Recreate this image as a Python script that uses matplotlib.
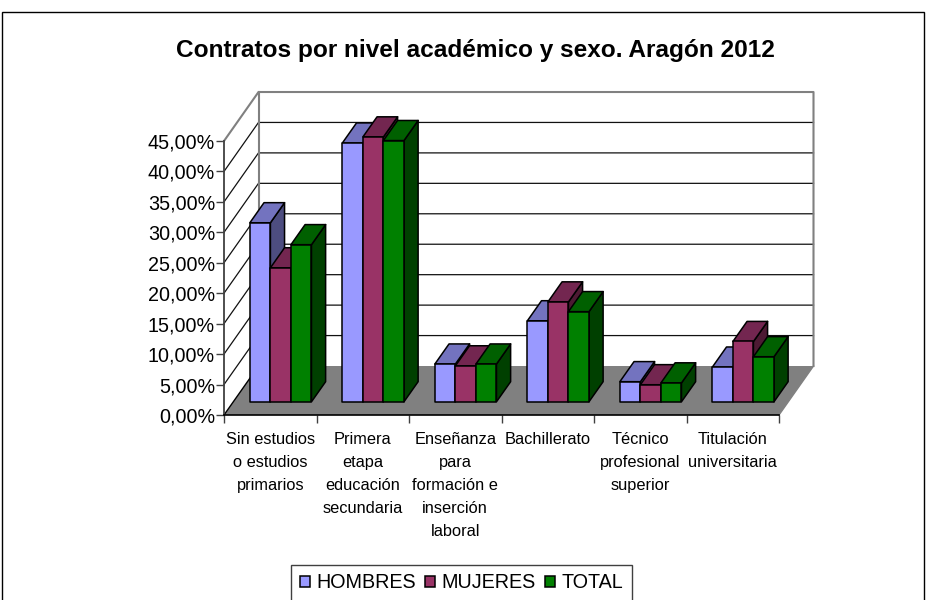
import matplotlib
matplotlib.use("Agg")
import matplotlib.pyplot as plt
from matplotlib.patches import Polygon, Patch, Rectangle

plt.rcParams['font.family'] = ['Liberation Sans', 'DejaVu Sans']

# --- DATA ---
categorias = [
    "Sin estudios\no estudios\nprimarios",
    "Primera\netapa\neducación\nsecundaria",
    "Enseñanza\npara\nformación e\ninserción\nlaboral",
    "Bachillerato",
    "Técnico\nprofesional\nsuperior",
    "Titulación\nuniversitaria",
]
hombres = [29.4, 42.5, 6.2, 13.3, 3.3, 5.7]
mujeres = [22.0, 43.5, 5.9, 16.4, 2.8, 9.9]
total = [25.8, 42.9, 6.2, 14.8, 3.1, 7.4]
y_ticks = [0, 5, 10, 15, 20, 25, 30, 35, 40, 45]

series = [hombres, mujeres, total]
nombres = ["HOMBRES", "MUJERES", "TOTAL"]
# front, top, side
colores = [
    ("#9999FF", "#7373BF", "#4D4D80"),
    ("#993366", "#732650", "#4D1A33"),
    ("#008000", "#006000", "#004000"),
]

# --- 3D FAKE: depth is a slant in data units ---
W, H = 926, 600
DX = 34.5 / 92.5
DY = 49 / 6.09
BAR_FRONT = 0.27
BAR_DEPTH = 0.41
BAR_W = 0.222


def p(x, y, d=0.0):
    return (x + d * DX, y + d * DY)


fig = plt.figure(figsize=(W / 100, H / 100), dpi=100)
ax = fig.add_axes([224 / W, 1 - 415 / H, 555 / W, 274 / H])
ax.set_xlim(0, 6)
ax.set_ylim(0, 45)
ax.patch.set_visible(False)

# chart border (runs off the bottom of the image)
fig.add_artist(Rectangle((2 / W, -0.05), 921.5 / W, 1.05 - 12 / H, transform=fig.transFigure,
                         fill=False, edgecolor='black', linewidth=1))

# floor
ax.add_patch(Polygon([p(0, 0), p(6, 0), p(6, 0, 1), p(0, 0, 1)], closed=True,
                     facecolor='#808080', edgecolor='none', clip_on=False, zorder=1))

# gridlines on the walls
for v in y_ticks[1:-1]:
    ax.plot(*zip(p(0, v), p(0, v, 1), p(6, v, 1)), color='#111111', lw=0.9, clip_on=False, zorder=1.5)
# wall outline
ax.plot(*zip(p(0, 45), p(0, 45, 1), p(6, 45, 1), p(6, 0, 1)), color='#808080', lw=1.5, clip_on=False, zorder=1.6)
ax.plot(*zip(p(0, 0, 1), p(0, 45, 1)), color='#808080', lw=1.5, clip_on=False, zorder=1.6)
ax.plot(*zip(p(0, 0), p(0, 0, 1)), color='black', lw=1, clip_on=False, zorder=1.5)
ax.plot(*zip(p(6, 0), p(6, 0, 1)), color='#808080', lw=1, clip_on=False, zorder=1.5)

# bars, left to right so that each one covers the side of the previous
z = 2
for i in range(len(categorias)):
    for j, vals in enumerate(series):
        x0 = i + 0.5 - 1.5 * BAR_W + j * BAR_W + 0.012
        x1 = x0 + BAR_W
        v = vals[i]
        d0 = BAR_FRONT
        d1 = BAR_FRONT + BAR_DEPTH
        front, top, side = colores[j]
        caras = [
            ([p(x1, 0, d0), p(x1, 0, d1), p(x1, v, d1), p(x1, v, d0)], side),
            ([p(x0, v, d0), p(x1, v, d0), p(x1, v, d1), p(x0, v, d1)], top),
            ([p(x0, 0, d0), p(x1, 0, d0), p(x1, v, d0), p(x0, v, d0)], front),
        ]
        for pts, c in caras:
            ax.add_patch(Polygon(pts, closed=True, facecolor=c, edgecolor='black',
                                 linewidth=1.1, joinstyle='round', clip_on=False, zorder=z))
            z += 0.01

# axes
for s in ['top', 'right']:
    ax.spines[s].set_visible(False)
ax.spines['left'].set_color('#404040')
ax.spines['left'].set_linewidth(1.3)
ax.spines['bottom'].set_color('black')
ax.spines['bottom'].set_linewidth(1.2)
ax.set_yticks(y_ticks)
ax.set_yticklabels([f"{v:.2f}%".replace(".", ",") for v in y_ticks], fontsize=14.2)
ax.tick_params(axis='y', length=6, width=1, color='#404040', pad=0.5)
ax.set_xticks(range(7))
ax.set_xticklabels([])
ax.tick_params(axis='x', which='major', length=6, width=1, color='#404040')
ax.set_xticks([i + 0.5 for i in range(6)], minor=True)
ax.set_xticklabels(categorias, minor=True, fontsize=11.8, linespacing=1.66)
ax.tick_params(axis='x', which='minor', length=0, pad=12.5)

fig.text(475 / W, 1 - 50 / H, "Contratos por nivel académico y sexo. Aragón 2012",
         ha='center', va='center', fontsize=17.6, fontweight='bold')

handles = [Patch(facecolor=c[0], edgecolor='black', linewidth=1.1) for c in colores]
leg = fig.legend(handles, nombres, loc='center', bbox_to_anchor=(461.5 / W, 1 - 583 / H),
                 ncol=3, fontsize=14.2, frameon=True, fancybox=False, edgecolor='#404040',
                 framealpha=1, handlelength=0.5, handleheight=0.5, handletextpad=0.35,
                 columnspacing=0.45, borderpad=0.42, borderaxespad=0)
leg.get_frame().set_linewidth(1)

plt.savefig("out.png", dpi=100)
plt.close()
